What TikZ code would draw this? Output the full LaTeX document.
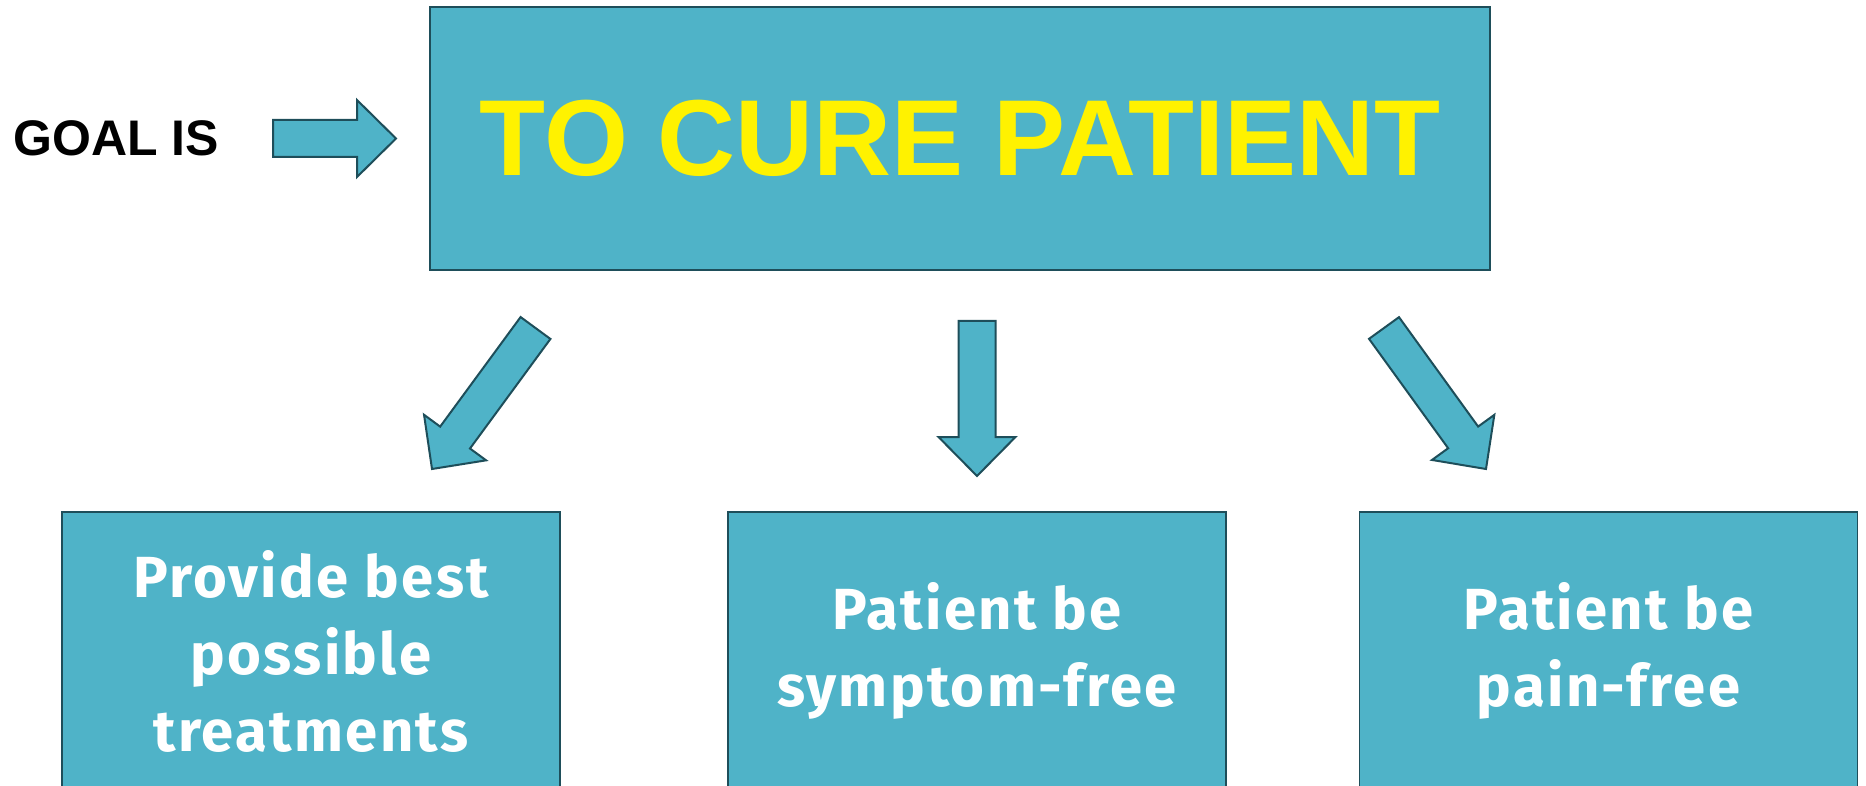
\documentclass[tikz,border=0pt]{standalone}
\usepackage{fontspec}
\setmainfont{Liberation Sans}
\newfontfamily\boxfont[LetterSpace=4]{Fira Sans}
\usetikzlibrary{positioning,calc}
\definecolor{boxteal}{RGB}{79,179,200}
\definecolor{edgeteal}{RGB}{30,78,90}

% block arrow from tail coordinate to tip coordinate
\newcommand{\fatarrow}[2]{%
  \coordinate (#2b) at ($(#2)!39pt!(#1)$);
  \draw[fatstyle] ($(#1)!18.5pt!90:(#2)$) -- ($(#2b)!18.5pt!90:(#2)$)
    -- ($(#2b)!38.5pt!90:(#2)$) -- (#2) -- ($(#2b)!38.5pt!-90:(#2)$)
    -- ($(#2b)!18.5pt!-90:(#2)$) -- ($(#1)!18.5pt!-90:(#2)$) -- cycle;}

\begin{document}
\begin{tikzpicture}[x=1pt,y=-1pt]
 \tikzstyle{goalbox}=[rectangle,draw=edgeteal,line width=1.5pt,
   fill=boxteal,text centered,inner sep=0pt]
 \tikzstyle{leafbox}=[goalbox,minimum width=498pt,minimum height=278pt,
   align=center,text=white,font={\boxfont\bfseries\fontsize{58}{77}\selectfont}]
 \tikzstyle{fatstyle}=[draw=edgeteal,line width=2pt,fill=boxteal,line join=miter]
 \useasboundingbox (0,0) rectangle (1866,786);
 \node (goal) at (116,138.5) {\fontsize{50}{60}\selectfont\bfseries GOAL IS};
 \node (cure) [goalbox,minimum width=1060pt,minimum height=263pt,
   text=yellow,font={\fontsize{108}{120}\selectfont\bfseries}]
   at (960,138.5) {TO CURE PATIENT};
 \node (treat) [leafbox] at (311,651) {Provide best\\possible\\treatments};
 \node (symptom) [leafbox] at (977,651) {Patient be\\symptom-free};
 \node (pain) [leafbox] at (1608.5,651) {Patient be\\pain-free};
 % arrows
 \coordinate (goaltail) at (273,138.5);
 \coordinate (goaltip) at (396,138.5);
 \coordinate (lefttail) at (535.5,328);
 \coordinate (lefttip) at (432,469);
 \coordinate (downtail) at (977,321);
 \coordinate (downtip) at (977,476);
 \coordinate (righttail) at (1384,328);
 \coordinate (righttip) at (1486,469);
 \fatarrow{goaltail}{goaltip}
 \fatarrow{lefttail}{lefttip}
 \fatarrow{downtail}{downtip}
 \fatarrow{righttail}{righttip}
\end{tikzpicture}
\end{document}
